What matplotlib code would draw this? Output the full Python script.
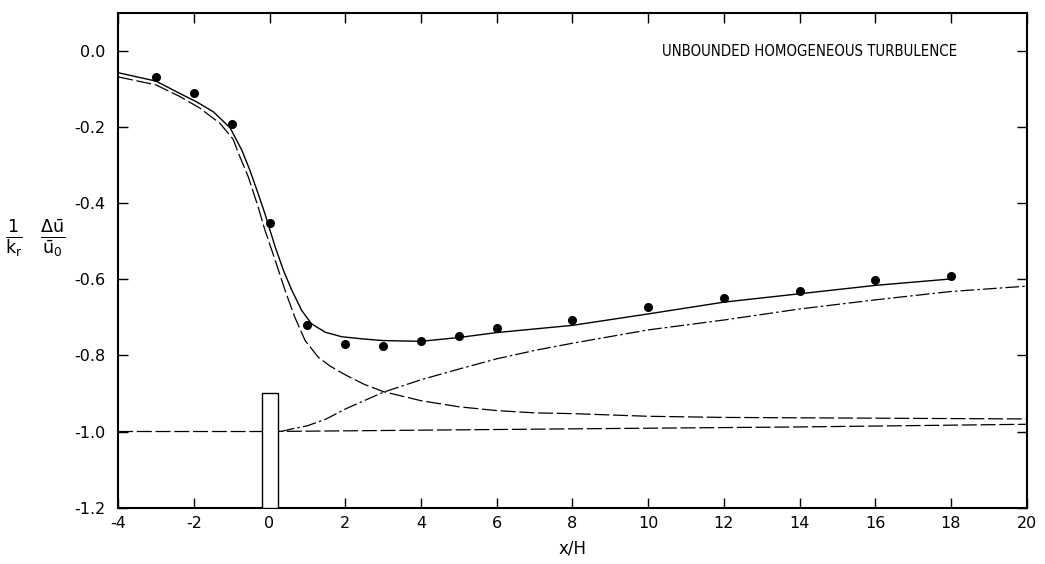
import numpy as np
import matplotlib
matplotlib.use("Agg")
import matplotlib.pyplot as plt
from matplotlib.patches import Rectangle

plt.rcParams['font.family'] = ['DejaVu Sans']
plt.rcParams['mathtext.fontset'] = 'dejavusans'
plt.rcParams['axes.unicode_minus'] = False

# measured points
x_pts = [-3, -2, -1, 0, 1, 2, 3, 4, 5, 6, 8, 10, 12, 14, 16, 18]
y_pts = [-0.068, -0.11, -0.192, -0.452, -0.72, -0.77, -0.775, -0.763,
         -0.75, -0.729, -0.707, -0.674, -0.648, -0.63, -0.603, -0.59]

# total predicted (solid)
x_tot = [-4, -3, -2.36, -1.92, -1.48, -1.04, -0.73, -0.52, -0.3, -0.12, 0.15,
         0.37, 0.59, 0.85, 1.11, 1.47, 1.91, 2.5, 3, 4, 5, 6, 8, 10, 12, 14,
         16, 18]
y_tot = [-0.057, -0.079, -0.112, -0.134, -0.16, -0.202, -0.261, -0.313,
         -0.375, -0.428, -0.515, -0.577, -0.629, -0.682, -0.717, -0.739,
         -0.751, -0.757, -0.761, -0.763, -0.753, -0.74, -0.721, -0.691,
         -0.66, -0.638, -0.616, -0.599]

# upstream contribution (dashed)
x_up = [-4, -3, -2.36, -1.84, -1.31, -0.96, -0.82, -0.56, -0.3, -0.12, 0.15,
        0.41, 0.67, 0.94, 1.29, 1.6, 2, 2.5, 3, 4, 5, 6, 7, 8, 10, 12, 14, 20]
y_up = [-0.068, -0.089, -0.12, -0.15, -0.19, -0.232, -0.269, -0.331, -0.41,
        -0.471, -0.55, -0.629, -0.7, -0.761, -0.805, -0.828, -0.851, -0.876,
        -0.895, -0.919, -0.935, -0.945, -0.951, -0.953, -0.96, -0.963,
        -0.964, -0.967]

# wake contribution (dash-dot)
x_wk = [0.3, 0.6, 1, 1.5, 2, 2.5, 3, 4, 5, 6, 7, 8, 10, 12, 14, 16, 18, 20]
y_wk = [-1.0, -0.993, -0.985, -0.967, -0.941, -0.919, -0.897, -0.864, -0.836,
        -0.809, -0.787, -0.768, -0.733, -0.707, -0.678, -0.654, -0.632, -0.618]

# baseline
x_base = [-4, 0, 8, 14, 20]
y_base = [-1.0, -1.0, -0.993, -0.988, -0.981]

yticks = [-1.2, -1.0, -0.8, -0.6, -0.4, -0.2, 0.0]
ylabels = ['-1.2', '-1.0', '-0.8', '-0.6', '-0.4', '-0.2', '0.0']
xticks = list(range(-4, 21, 2))

fig = plt.figure(figsize=(10.45, 5.64), dpi=100)
ax = fig.add_axes([0.113, 0.1, 0.8695, 0.877])

ax.plot(x_base, y_base, color='black', lw=0.9, dashes=(12, 3), zorder=2)
ax.plot(x_up, y_up, color='black', lw=0.9, dashes=(12, 3), zorder=2)
ax.plot(x_wk, y_wk, color='black', lw=0.9, dashes=(11, 2.5, 2, 2.5), zorder=2)
ax.plot(x_tot, y_tot, color='black', lw=1.0, zorder=3)
ax.plot(x_pts, y_pts, 'o', color='black', ms=5.5, zorder=4)

ax.add_patch(Rectangle((-0.2, -1.2), 0.42, 0.3, facecolor='white',
                       edgecolor='black', lw=1.0, zorder=3))

ax.text(18.15, 0.0, 'UNBOUNDED HOMOGENEOUS TURBULENCE', ha='right', va='center',
        fontsize=10.7, fontstretch='condensed')

ax.set_xlim(-4, 20)
ax.set_ylim(-1.2, 0.1)
ax.set_xticks(xticks)
ax.set_yticks(yticks)
ax.set_yticklabels(ylabels)
ax.tick_params(direction='in', length=7, width=1, top=True, right=True,
               labelsize=11.5)
ax.tick_params(axis='y', pad=9)
ax.tick_params(axis='x', pad=6)
for s in ax.spines.values():
    s.set_linewidth(1.5)

ax.set_xlabel('x/H', fontsize=12, labelpad=6)
fig.text(0.034, 0.578,
         r'$\frac{1}{\mathrm{k_r}}\ \ \frac{\Delta\bar{\mathrm{u}}}{\bar{\mathrm{u}}_0}$',
         ha='center', va='center', fontsize=18)

fig.savefig('out.png', dpi=100)
